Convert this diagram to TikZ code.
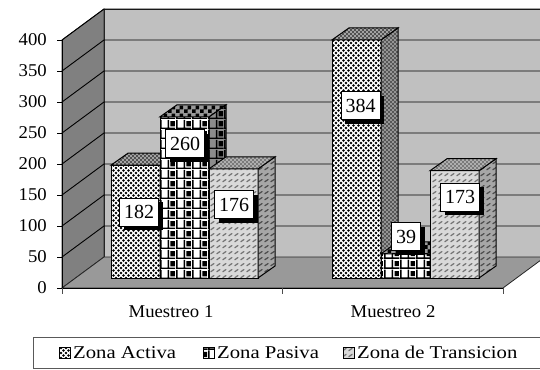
\documentclass[tikz,border=0pt]{standalone}
\usepackage{fontspec}
\setmainfont{Liberation Serif}
\newfontfamily\axfont[FakeStretch=1.04]{Liberation Serif}
\newfontfamily\legfont[FakeStretch=1.15]{Liberation Serif}
\usetikzlibrary{patterns,shadows}

\pgfdeclarepatternformonly{dotsA}{\pgfqpoint{-2pt}{-2pt}}{\pgfqpoint{7pt}{7pt}}{\pgfqpoint{5pt}{5pt}}{%
 \pgfpathcircle{\pgfqpoint{1pt}{1pt}}{1.45pt}%
 \pgfpathcircle{\pgfqpoint{3.5pt}{3.5pt}}{1.45pt}%
 \pgfusepath{fill}}
\pgfdeclarepatternformonly{dotsS}{\pgfqpoint{-1pt}{-1pt}}{\pgfqpoint{5pt}{5pt}}{\pgfqpoint{4pt}{4pt}}{%
 \pgfpathcircle{\pgfqpoint{1pt}{1pt}}{1.1pt}%
 \pgfpathcircle{\pgfqpoint{3pt}{3pt}}{1.1pt}%
 \pgfusepath{fill}}
\pgfdeclarepatternformonly{plaidP}{\pgfqpoint{0pt}{0pt}}{\pgfqpoint{16pt}{10pt}}{\pgfqpoint{16pt}{10pt}}{%
 \pgfpathrectangle{\pgfqpoint{0pt}{0pt}}{\pgfqpoint{16pt}{1.6pt}}%
 \pgfpathrectangle{\pgfqpoint{0pt}{1.6pt}}{\pgfqpoint{1.6pt}{8.4pt}}%
 \pgfpathrectangle{\pgfqpoint{8pt}{1.6pt}}{\pgfqpoint{1.6pt}{8.4pt}}%
 \pgfpathrectangle{\pgfqpoint{11pt}{3pt}}{\pgfqpoint{4.5pt}{5.5pt}}%
 \pgfusepath{fill}}
\pgfdeclarepatternformonly{checkP}{\pgfqpoint{0pt}{0pt}}{\pgfqpoint{8pt}{8pt}}{\pgfqpoint{8pt}{8pt}}{%
 \pgfpathrectangle{\pgfqpoint{0pt}{0pt}}{\pgfqpoint{4pt}{4pt}}%
 \pgfpathrectangle{\pgfqpoint{4pt}{4pt}}{\pgfqpoint{4pt}{4pt}}%
 \pgfusepath{fill}}
\pgfdeclarepatternformonly{dashT}{\pgfqpoint{0pt}{0pt}}{\pgfqpoint{6pt}{6pt}}{\pgfqpoint{6pt}{6pt}}{%
 \pgfsetlinewidth{1.4pt}\pgfsetroundcap
 \pgfpathmoveto{\pgfqpoint{1pt}{1.5pt}}\pgfpathlineto{\pgfqpoint{4.5pt}{4pt}}%
 \pgfusepath{stroke}}

\definecolor{backgray}{HTML}{C0C0C0}
\definecolor{sidegray}{HTML}{808080}
\definecolor{floorgray}{HTML}{999999}

\newcommand{\chartbar}[3]{%
 \pgfmathsetmacro{\barTopY}{278-0.62*#2}%
 \draw[#3F] (#1,278) rectangle (#1+49,\barTopY);
 \draw[#3S] (#1+49,278) -- (#1+49,\barTopY) -- (#1+66,\barTopY-12) -- (#1+66,266) -- cycle;
 \draw[#3T] (#1,\barTopY) -- (#1+17,\barTopY-12) -- (#1+66,\barTopY-12) -- (#1+49,\barTopY) -- cycle;
}

\begin{document}
\begin{tikzpicture}[x=1pt,y=-1pt,
  wallline/.style={draw=black!85, line width=0.8pt},
  gridline/.style={draw=black, line width=0.9pt},
  barline/.style={draw=black, line width=1pt},
  actF/.style={barline, preaction={fill=white}, pattern=dotsA, pattern color=black},
  actT/.style={barline, preaction={fill=black!35}, pattern=dotsS, pattern color=black!80},
  actS/.style={barline, preaction={fill=black!40}, pattern=dotsS, pattern color=black!75},
  pasF/.style={barline, preaction={fill=white}, pattern=plaidP, pattern color=black},
  pasT/.style={barline, preaction={fill=black!40}, pattern=checkP, pattern color=black},
  pasS/.style={barline, preaction={fill=black!45}, pattern=plaidP, pattern color=black},
  traF/.style={barline, preaction={fill=black!15}, pattern=dashT, pattern color=black!55},
  traT/.style={barline, preaction={fill=black!30}, pattern=dotsS, pattern color=black!60},
  traS/.style={barline, preaction={fill=black!35}, pattern=dashT, pattern color=black!70},
  ylab/.style={anchor=east, font=\axfont\fontsize{18}{20}\selectfont, inner sep=0pt},
  xlab/.style={anchor=base, font=\axfont\fontsize{18}{20}\selectfont, inner sep=0pt},
  vlab/.style={draw=black, line width=0.7pt, fill=white, font=\fontsize{20}{21}\selectfont,
    inner xsep=4.5pt, inner ysep=0pt, minimum height=28pt,
    general shadow={fill=black, shadow xshift=4pt, shadow yshift=-4pt}},
  legtext/.style={anchor=base west, font=\legfont\fontsize{18}{20}\selectfont, inner sep=0pt},
  legicon/.style={line width=1.4pt}
]
\useasboundingbox (0,0) rectangle (540,369);
\clip (0,0) rectangle (540,369);

% walls and floor
\draw[wallline, fill=sidegray] (62,40) -- (104,9) -- (104,257) -- (62,288) -- cycle;
\draw[wallline, fill=backgray] (104,9) rectangle (570,257);
\draw[wallline, fill=floorgray] (62,288) -- (104,257) -- (545,257) -- (503,288) -- cycle;

% grid lines
\foreach \k in {1,...,8}{
  \draw[gridline] (62,288-31*\k) -- (104,257-31*\k) -- (570,257-31*\k);
}

% axes
\draw[gridline] (62,40) -- (62,288);
\draw[gridline] (62,288) -- (503,288);
\foreach \k in {0,...,8}{
  \draw[gridline] (57,288-31*\k) -- (62,288-31*\k);
}
\foreach \xx in {62,282,503}{
  \draw[line width=0.8pt, draw=black!70] (\xx,288) -- (\xx,294);
}
\node[ylab] (y0) at (47,288) {0};
\node[ylab] (y1) at (47,257) {50};
\node[ylab] (y2) at (47,226) {100};
\node[ylab] (y3) at (47,195) {150};
\node[ylab] (y4) at (47,164) {200};
\node[ylab] (y5) at (47,133) {250};
\node[ylab] (y6) at (47,102) {300};
\node[ylab] (y7) at (47,71) {350};
\node[ylab] (y8) at (47,40) {400};

% bars
\chartbar{111}{182}{act}
\chartbar{160}{260}{pas}
\chartbar{209}{176}{tra}
\chartbar{332}{384}{act}
\chartbar{381}{39}{pas}
\chartbar{430}{173}{tra}

% value labels
\node[vlab] (v1) at (139,212) {182};
\node[vlab] (v2) at (185,143.5) {260};
\node[vlab] (v3) at (234,204.5) {176};
\node[vlab] (v4) at (360.5,105.5) {384};
\node[vlab] (v5) at (406,236.5) {39};
\node[vlab] (v6) at (460,197) {173};

% category labels
\node[xlab] (c1) at (171,317) {Muestreo 1};
\node[xlab] (c2) at (393,317) {Muestreo 2};

% legend
\draw[draw=black!65, line width=0.9pt] (33,337) rectangle (570,368);
\draw[legicon, actF] (59,347) rectangle (70,358);
\draw[legicon, pasF] (203,347) rectangle (214,358);
\draw[legicon, traF] (343,347) rectangle (354,358);
\node[legtext] (l1) at (73,358) {Zona Activa};
\node[legtext] (l2) at (217,358) {Zona Pasiva};
\node[legtext] (l3) at (357,358) {Zona de Transicion};
\end{tikzpicture}
\end{document}
